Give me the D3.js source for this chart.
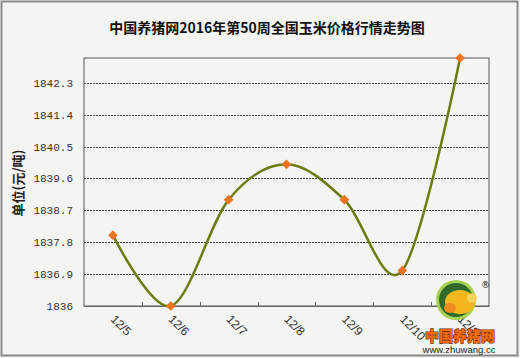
<!DOCTYPE html>
<html><head><meta charset="utf-8">
<script src="https://cdnjs.cloudflare.com/ajax/libs/d3/7.8.5/d3.min.js"></script>
<style>html,body{margin:0;padding:0;background:#fff;}svg{display:block;}</style>
</head><body>
<script>
const titleText = "中国养猪网2016年第50周全国玉米价格行情走势图";
const yAxisLabel = "单位(元/吨)";
const categories = ["12/5","12/6","12/7","12/8","12/9","12/10","12/11"];
const values = [1838.0, 1836.0, 1839.0, 1840.0, 1839.0, 1837.0, 1843.0];
const yTicks = [1836, 1836.9, 1837.8, 1838.7, 1839.6, 1840.5, 1841.4, 1842.3];
const yTickLabels = ["1836","1836.9","1837.8","1838.7","1839.6","1840.5","1841.4","1842.3"];

const W = 520, H = 358;
const m = {left: 84, right: 31, top: 58, bottom: 52};
const svg = d3.select("body").append("svg").attr("width", W).attr("height", H);

svg.append("rect").attr("x",0).attr("y",0).attr("width",W).attr("height",H).attr("fill","#f4f5f2");
svg.append("rect").attr("x",1.5).attr("y",1.5).attr("width",W-4).attr("height",H-4)
  .attr("fill","none").attr("stroke","#8a8a8a").attr("stroke-width",2);

svg.append("text").attr("x",267).attr("y",33).attr("text-anchor","middle")
  .attr("font-family","'Noto Sans CJK SC', sans-serif").attr("font-weight","bold")
  .attr("font-size",14).attr("fill","#111").text(titleText);

const x = d3.scaleBand().domain(categories).range([m.left, W - m.right]);
const y = d3.scaleLinear().domain([1836, 1843]).range([H - m.bottom, m.top]);

// plot frame
svg.append("rect").attr("x",m.left).attr("y",m.top).attr("width",W-m.right-m.left).attr("height",H-m.bottom-m.top)
  .attr("fill","none").attr("stroke","#555").attr("stroke-width",1);

// gridlines
svg.append("g").selectAll("line").data(yTicks.slice(1)).join("line")
  .attr("x1",m.left).attr("x2",W-m.right)
  .attr("y1",d=>Math.round(y(d))+0.5).attr("y2",d=>Math.round(y(d))+0.5)
  .attr("stroke","#444").attr("stroke-width",1).attr("stroke-dasharray","2,1");

// y axis labels
const yAxis = d3.axisLeft(y).tickValues(yTicks).tickSize(0).tickPadding(11)
  .tickFormat((d,i)=>yTickLabels[i]);
const gy = svg.append("g").attr("transform",`translate(${m.left},0)`).call(yAxis);
gy.select(".domain").remove();
gy.selectAll("text").attr("font-family","'Liberation Mono', monospace").attr("font-size",11).attr("fill","#333");

// x axis
const xAxis = d3.axisBottom(x).tickSize(0).tickFormat("");
const gx = svg.append("g").attr("transform",`translate(0,${H-m.bottom})`).call(xAxis);
gx.select(".domain").attr("stroke","#666");
gx.selectAll(".tick").remove();
svg.append("g").selectAll("line").data(categories.slice(1)).join("line")
  .attr("x1",d=>Math.round(x(d))+0.5).attr("x2",d=>Math.round(x(d))+0.5)
  .attr("y1",H-m.bottom-4).attr("y2",H-m.bottom).attr("stroke","#666");

svg.append("g").selectAll("text").data(categories).join("text")
  .attr("transform",d=>`translate(${x(d)+x.bandwidth()/2-3},${H-m.bottom+14}) rotate(45)`)
  .attr("font-family","'Liberation Sans', Arial, sans-serif").attr("font-size",12).attr("fill","#333")
  .text(d=>d);

// y axis title
svg.append("text").attr("transform","translate(23,183) rotate(-90)").attr("text-anchor","middle")
  .attr("font-family","'Noto Sans CJK SC', sans-serif").attr("font-weight","bold").attr("font-size",13)
  .attr("fill","#222").text(yAxisLabel);

// line
const pts = categories.map((c,i)=>[x(c)+x.bandwidth()/2, y(values[i])]);
svg.append("path").attr("d", d3.line().curve(d3.curveCatmullRom.alpha(0))(pts))
  .attr("fill","none").attr("stroke","#6e7a12").attr("stroke-width",2.5);

// markers
svg.append("g").selectAll("path").data(pts).join("path")
  .attr("transform",d=>`translate(${d[0]},${d[1]})`)
  .attr("d", d3.symbol().type(d3.symbolDiamond2).size(60)())
  .attr("fill","#ec7420");

// logo
const logo = svg.append("g");
logo.append("circle").attr("cx",456).attr("cy",300).attr("r",20).attr("fill","#a4d150");
logo.append("circle").attr("cx",456).attr("cy",300).attr("r",17).attr("fill","#2f6a2a");
logo.append("ellipse").attr("cx",460).attr("cy",302).attr("rx",15).attr("ry",12).attr("fill","#f3b61c");
logo.append("ellipse").attr("cx",472).attr("cy",298).attr("rx",5).attr("ry",4.5).attr("fill","#f7d35a");
logo.append("ellipse").attr("cx",450).attr("cy",308).attr("rx",6).attr("ry",5).attr("fill","#f08a1c");
logo.append("text").attr("x",481).attr("y",288).attr("font-size",9).attr("font-family","'DejaVu Sans', sans-serif").attr("fill","#222").text("®");
logo.append("text").attr("x",460).attr("y",341).attr("text-anchor","middle")
  .attr("font-family","'Noto Sans CJK SC', sans-serif").attr("font-weight","900").attr("font-size",14)
  .attr("fill","#f06a10").attr("stroke","#7a2a05").attr("stroke-width",1.2).attr("paint-order","stroke").text("中国养猪网");
logo.append("text").attr("x",459).attr("y",353).attr("text-anchor","middle")
  .attr("font-family","'Liberation Sans', Arial, sans-serif").attr("font-size",9.5).attr("fill","#222").text("www.zhuwang.cc");
</script>
</body></html>
